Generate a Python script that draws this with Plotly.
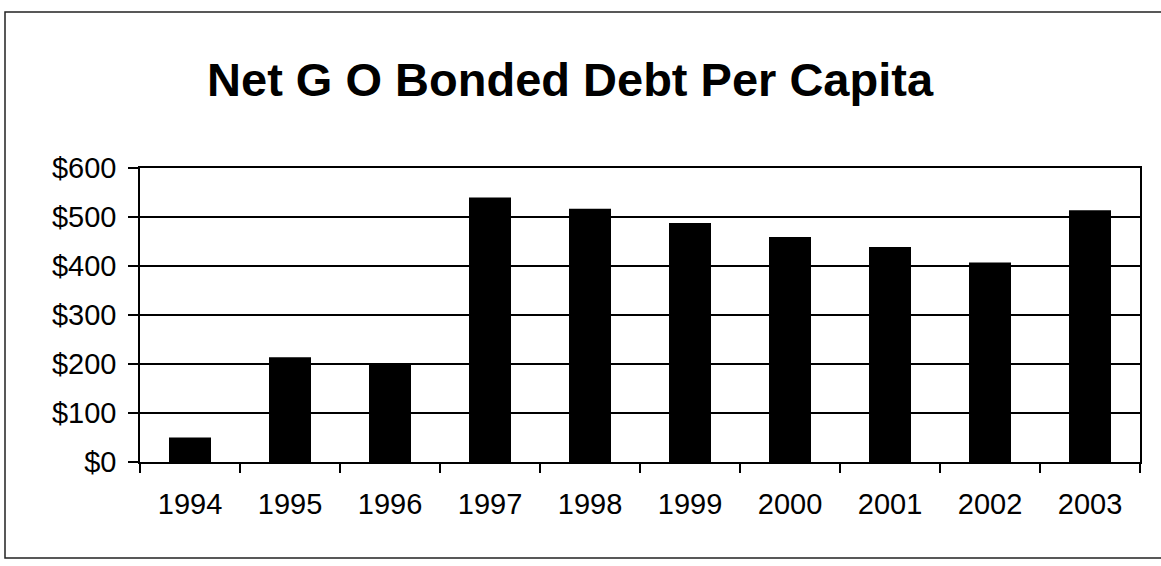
import plotly.graph_objects as go

years = ["1994", "1995", "1996", "1997", "1998", "1999", "2000", "2001", "2002", "2003"]
debt_per_capita = [50, 214, 202, 540, 517, 488, 459, 439, 407, 514]
y_ticks = [0, 100, 200, 300, 400, 500, 600]
y_tick_labels = ["$0", "$100", "$200", "$300", "$400", "$500", "$600"]

fig = go.Figure()
fig.add_trace(go.Bar(
    x=years, y=debt_per_capita,
    marker=dict(color="black", line=dict(color="black", width=0)),
    width=0.42,
))

fig.update_layout(
    width=1161, height=566,
    margin=dict(l=140, r=21, t=168, b=104),
    paper_bgcolor="white", plot_bgcolor="white",
    showlegend=False,
    title=dict(
        text="<b>Net G O Bonded Debt Per Capita</b>",
        x=0.491, xref="container", xanchor="center",
        y=0.86, yref="container", yanchor="middle",
        font=dict(family="Liberation Sans, Arial, sans-serif", size=47, color="black"),
    ),
    font=dict(family="Liberation Sans, Arial, sans-serif", color="black"),
    shapes=[dict(
        type="rect", xref="paper", yref="paper",
        x0=-0.135, x1=1.03, y0=-0.3265, y1=1.531,
        line=dict(color="#222222", width=1.5), fillcolor="rgba(0,0,0,0)",
    )],
)

fig.update_xaxes(
    type="category",
    showline=True, linecolor="black", linewidth=1.5, mirror=True,
    ticks="outside", tickson="boundaries", ticklen=9, tickcolor="black", tickwidth=1.5,
    showgrid=False,
    tickfont=dict(size=29, color="black"),
    ticklabelstandoff=15,
)
fig.update_yaxes(
    range=[0, 600],
    tickvals=y_ticks, ticktext=y_tick_labels,
    showline=True, linecolor="black", linewidth=1.5, mirror=True,
    ticks="outside", ticklen=10, tickcolor="black", tickwidth=1.5,
    showgrid=True, gridcolor="black", gridwidth=1.5,
    zeroline=False,
    tickfont=dict(size=29, color="black"),
    ticklabelstandoff=6,
)

fig.write_html("out.html")
